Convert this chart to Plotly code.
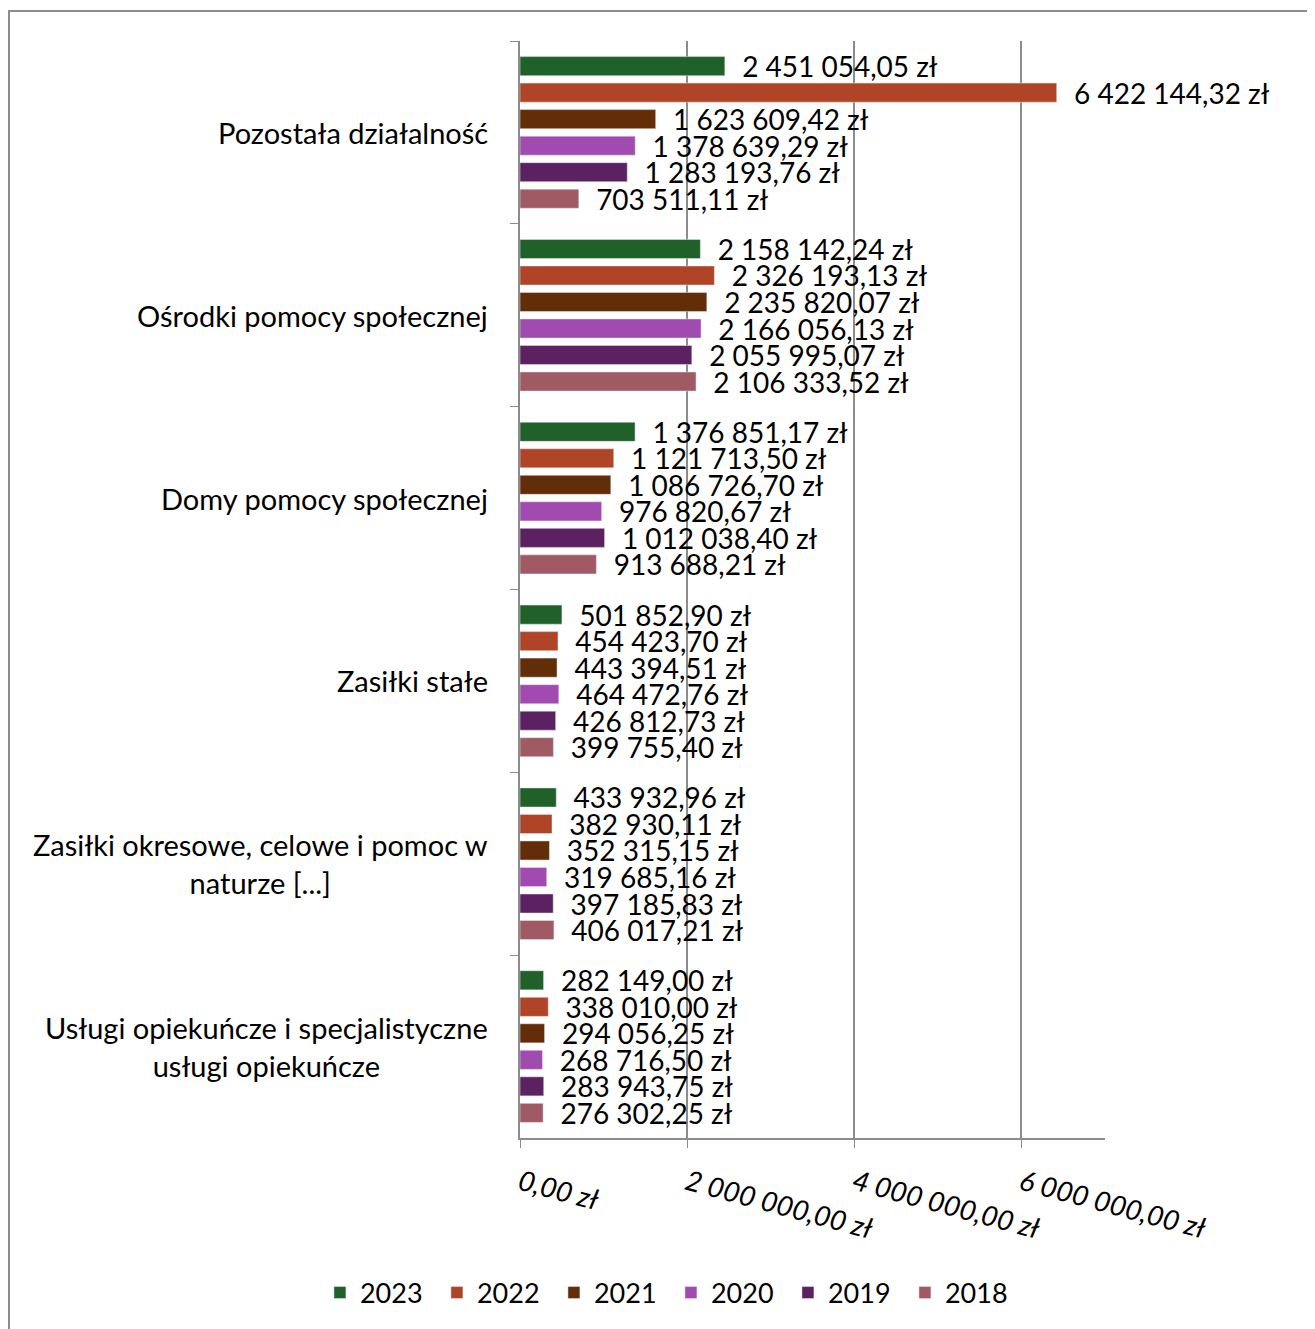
import plotly.graph_objects as go


# -------------------------------------------------
# Data
# -------------------------------------------------

categories = [
    "Pozostała działalność",
    "Ośrodki pomocy społecznej",
    "Domy pomocy społecznej",
    "Zasiłki stałe",
    "Zasiłki okresowe, celowe i pomoc w<br>naturze [...]",
    "Usługi opiekuńcze i specjalistyczne<br>usługi opiekuńcze",
]

years = ["2023", "2022", "2021", "2020", "2019", "2018"]

values_2023 = [2451054.05, 2158142.24, 1376851.17, 501852.90, 433932.96, 282149.00]
values_2022 = [6422144.32, 2326193.13, 1121713.50, 454423.70, 382930.11, 338010.00]
values_2021 = [1623609.42, 2235820.07, 1086726.70, 443394.51, 352315.15, 294056.25]
values_2020 = [1378639.29, 2166056.13, 976820.67, 464472.76, 319685.16, 268716.50]
values_2019 = [1283193.76, 2055995.07, 1012038.40, 426812.73, 397185.83, 283943.75]
values_2018 = [703511.11, 2106333.52, 913688.21, 399755.40, 406017.21, 276302.25]

tick_values = [0, 2000000, 4000000, 6000000]
tick_labels = ["0,00 zł", "2 000 000,00 zł", "4 000 000,00 zł", "6 000 000,00 zł"]

series = [values_2023, values_2022, values_2021, values_2020, values_2019, values_2018]
colors = ["#1F6129", "#B04426", "#632D08", "#A14AAF", "#5B2161", "#A05A63"]

FONT = "Lato"
GREY = "#8C8C8C"


def pln(v):
    return f"{v:,.2f}".replace(",", " ").replace(".", ",") + " zł"


# -------------------------------------------------
# Figure
# -------------------------------------------------

fig = go.Figure()

for year, vals, color in zip(years, series, colors):
    fig.add_trace(go.Bar(
        y=categories,
        x=vals,
        name=year,
        orientation="h",
        marker=dict(color=color),
        text=["  " + pln(v) for v in vals],
        textposition="outside",
        constraintext="none",
        cliponaxis=False,
        textfont=dict(family=FONT, size=28, color="black"),
    ))

# category labels, centered lines like the original
for cat in categories:
    fig.add_annotation(
        x=0, xref="paper", xanchor="right", xshift=-30,
        y=cat, yref="y",
        text=cat, showarrow=False, align="center",
        font=dict(family=FONT, size=29, color="black"),
    )

# outer frame
fig.add_shape(
    type="rect", xref="paper", yref="paper",
    x0=-0.8735, x1=1.37, y0=-0.2, y1=1.0274,
    line=dict(color=GREY, width=2), fillcolor="rgba(0,0,0,0)",
    layer="below",
)

fig.update_layout(
    width=1307,
    height=1321,
    margin=dict(l=512, r=210, t=33, b=191, autoexpand=False),
    paper_bgcolor="white",
    plot_bgcolor="white",
    font=dict(family=FONT, size=26, color="black"),
    barmode="group",
    bargap=0.13,
    bargroupgap=0.28,
    showlegend=True,
    legend=dict(
        orientation="h",
        x=-0.342, xanchor="left",
        y=-0.1413, yanchor="middle",
        font=dict(family=FONT, size=27),
        entrywidth=72, entrywidthmode="pixels",
        traceorder="normal",
        bgcolor="rgba(0,0,0,0)",
    ),
)

fig.update_xaxes(
    range=[0, 7000000],
    tickvals=tick_values,
    ticktext=tick_labels,
    tickangle=15,
    tickfont=dict(family=FONT, size=28, style="italic"),
    ticks="outside",
    ticklen=8,
    tickcolor=GREY,
    ticklabelstandoff=8,
    showgrid=True,
    gridcolor=GREY,
    gridwidth=1.5,
    showline=True,
    linecolor=GREY,
    linewidth=2,
    zeroline=False,
    automargin=False,
)

fig.update_yaxes(
    autorange="reversed",
    showticklabels=False,
    ticks="outside",
    tickson="boundaries",
    ticklen=8,
    tickcolor=GREY,
    showline=True,
    linecolor=GREY,
    linewidth=2,
    showgrid=False,
    automargin=False,
)

fig.write_html("out.html")
